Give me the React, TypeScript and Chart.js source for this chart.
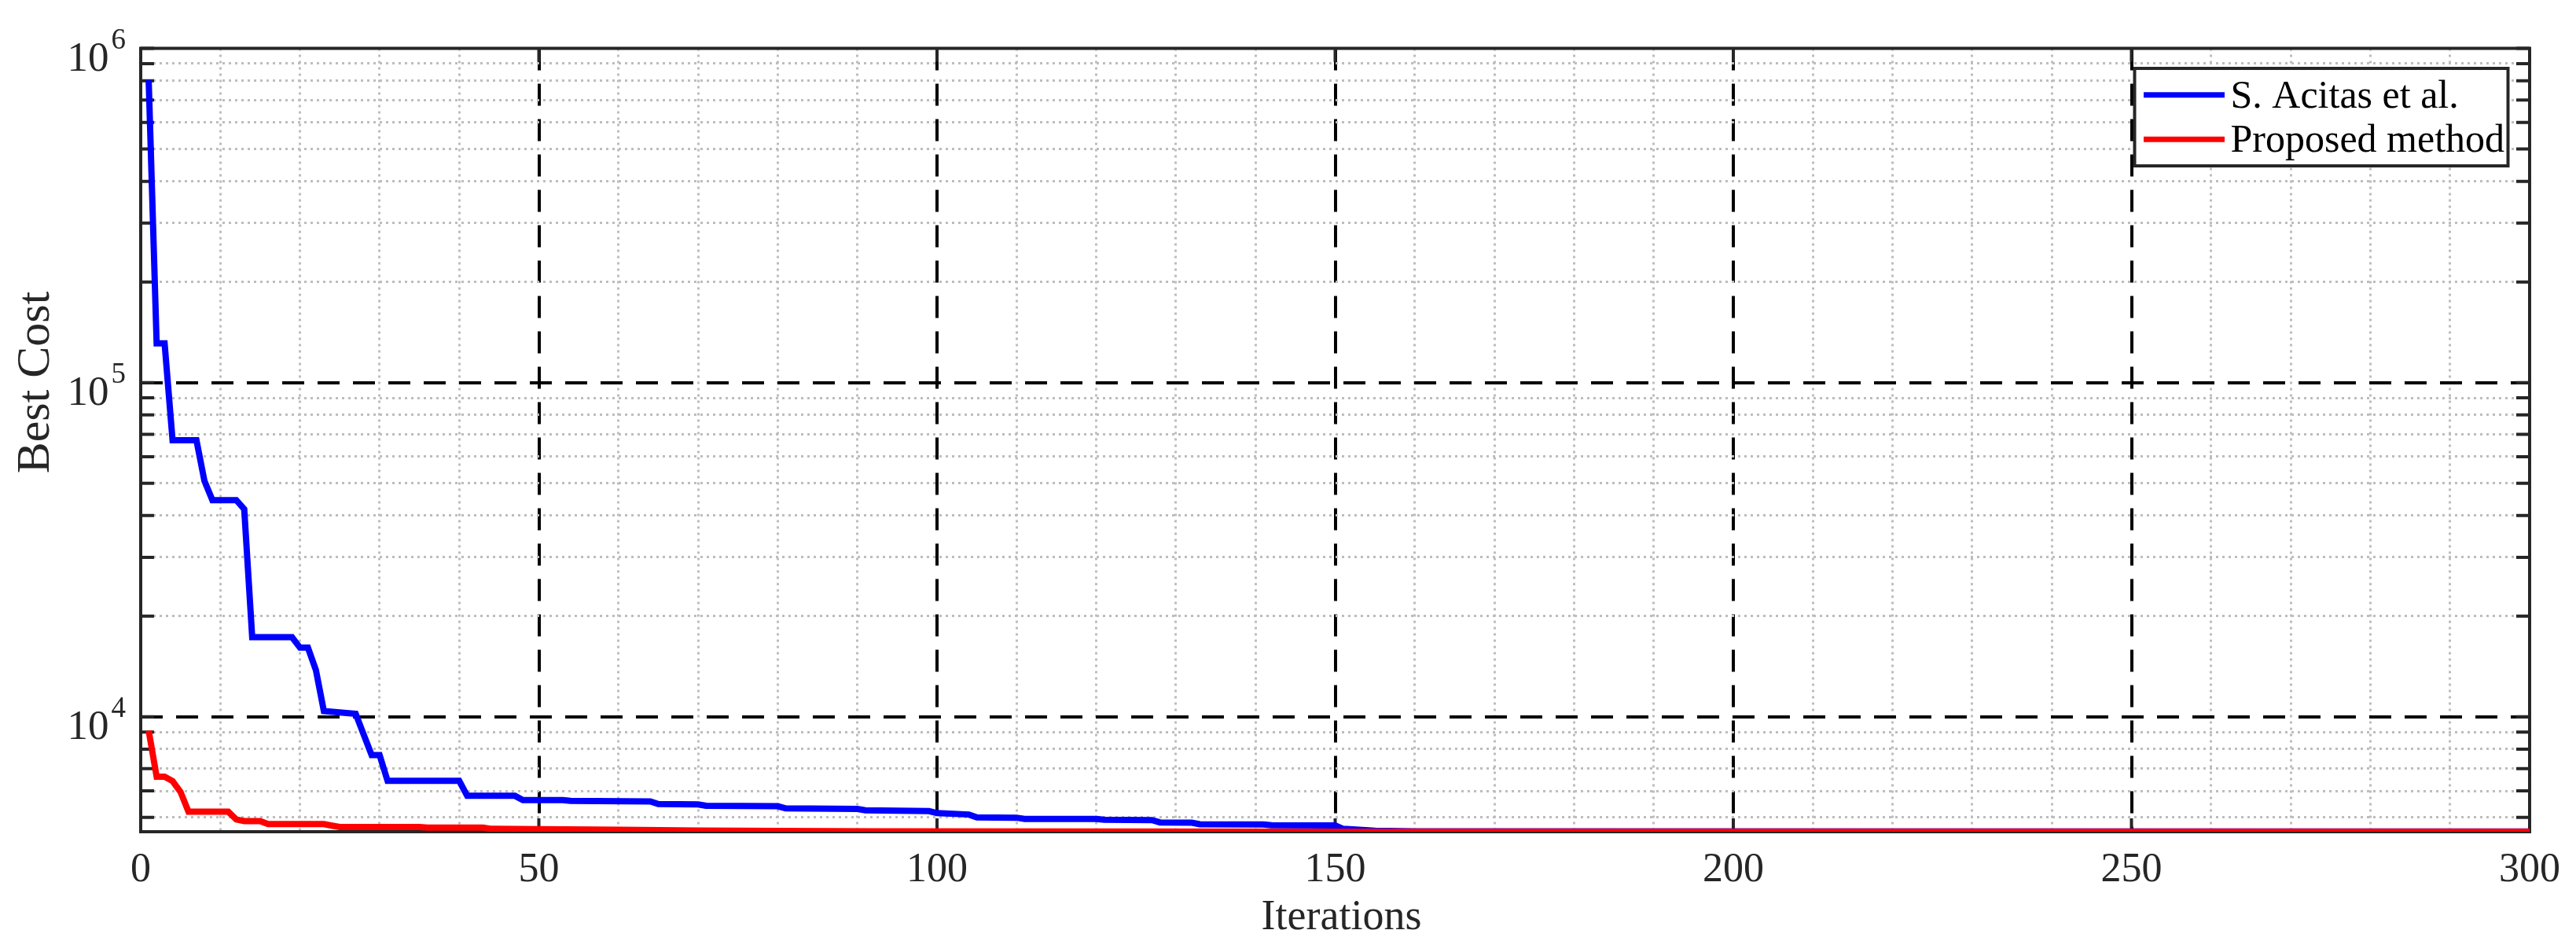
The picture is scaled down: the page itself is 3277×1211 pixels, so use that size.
import React, { useEffect, useRef } from 'react';
import { Chart, registerables } from 'chart.js';

Chart.register(...registerables);

// ---------- data ----------
const blueLabel = 'S. Acitas et al.';
const redLabel = 'Proposed method';

const blueIter = [1, 2, 3, 4, 7, 8, 9, 12, 13, 14, 19, 20, 21, 22, 23, 27, 28, 29, 30, 31, 40, 41, 47, 48, 53, 54, 64, 65, 70, 71, 80, 81, 90, 91, 99, 100, 104, 105, 110, 111, 120, 121, 127, 128, 132, 133, 141, 142, 150, 151, 155, 160, 300];
const blueCost = [805000, 131000, 131000, 67200, 67200, 50800, 44500, 44500, 41800, 17300, 17300, 16100, 16100, 13800, 10400, 10200, 8850, 7680, 7680, 6430, 6430, 5800, 5800, 5630, 5630, 5600, 5580, 5480, 5470, 5420, 5400, 5320, 5300, 5250, 5220, 5150, 5100, 5000, 4990, 4950, 4945, 4920, 4910, 4830, 4820, 4770, 4765, 4740, 4730, 4620, 4560, 4545, 4535];

const redIter = [1, 2, 3, 4, 5, 6, 11, 12, 13, 15, 16, 23, 24, 25, 35, 36, 43, 44, 50, 60, 70, 80, 92, 120, 150, 300];
const redCost = [9090, 6620, 6620, 6420, 5960, 5200, 5200, 4930, 4875, 4875, 4775, 4775, 4725, 4680, 4680, 4660, 4660, 4620, 4610, 4590, 4570, 4555, 4540, 4535, 4530, 4530];

const xMin = 0;
const xMax = 300;
const xTickValues = [0, 10, 20, 30, 40, 50, 60, 70, 80, 90, 100, 110, 120, 130, 140, 150, 160, 170, 180, 190, 200, 210, 220, 230, 240, 250, 260, 270, 280, 290, 300];
const xLabelValues = [0, 50, 100, 150, 200, 250, 300];

const yMin = 4530;
const yMax = 1000000;
const yTickValues = [5000, 6000, 7000, 8000, 9000, 10000, 20000, 30000, 40000, 50000, 60000, 70000, 80000, 90000, 100000, 200000, 300000, 400000, 500000, 600000, 700000, 800000, 900000, 1000000];
const yLabelValues = [10000, 100000, 1000000];

const xTitle = 'Iterations';
const yTitle = 'Best Cost';

// ---------- styles ----------
const W = 3277;
const H = 1211;
const FONT = '"Liberation Serif", "Times New Roman", serif';
const AXIS = '#262626';
const MINOR_GRID = '#bdbdbd';
const MAJOR_GRID = '#000000';
const TICK_LEN = 17;

const isMajorX = (v: number) => xLabelValues.includes(v);
const isMajorY = (v: number) => yLabelValues.some((m) => Math.abs(m - v) < 1e-6 * m);

const decorPlugin = {
  id: 'decor',
  beforeDatasetsDraw(chart: any) {
    const { ctx, chartArea: a, scales } = chart;
    const xs = scales.x;
    const ys = scales.y;
    ctx.save();
    ctx.strokeStyle = AXIS;
    ctx.lineWidth = 4;
    ctx.lineCap = 'butt';
    ctx.beginPath();
    for (const v of yTickValues) {
      const py = ys.getPixelForValue(v);
      if (py < a.top - 1 || py > a.bottom + 1) continue;
      ctx.moveTo(a.left, py);
      ctx.lineTo(a.left + TICK_LEN, py);
      ctx.moveTo(a.right, py);
      ctx.lineTo(a.right - TICK_LEN, py);
    }
    for (const v of xLabelValues) {
      const px = xs.getPixelForValue(v);
      ctx.moveTo(px, a.bottom);
      ctx.lineTo(px, a.bottom - TICK_LEN);
      ctx.moveTo(px, a.top);
      ctx.lineTo(px, a.top + TICK_LEN);
    }
    ctx.stroke();
    ctx.lineJoin = 'miter';
    ctx.strokeRect(a.left, a.top, a.right - a.left, a.bottom - a.top);
    ctx.restore();
  },
  afterDraw(chart: any) {
    const { ctx, chartArea: a, scales } = chart;
    const ys = scales.y;
    ctx.save();
    // y tick labels 10^n
    ctx.fillStyle = AXIS;
    ctx.textAlign = 'right';
    ctx.textBaseline = 'alphabetic';
    for (const v of yLabelValues) {
      const py = ys.getPixelForValue(v);
      const exp = String(Math.round(Math.log10(v)));
      const supRight = a.left - 19;
      ctx.font = `37px ${FONT}`;
      ctx.fillText(exp, supRight, py);
      const supW = ctx.measureText(exp).width;
      ctx.font = `53px ${FONT}`;
      ctx.fillText('10', supRight - supW - 3, py + 28);
    }
    // axis titles
    ctx.font = `54px ${FONT}`;
    ctx.textAlign = 'center';
    ctx.fillText(xTitle, (a.left + a.right) / 2 + 8, a.bottom + 124);
    ctx.save();
    ctx.translate(62, a.top + 0.4265 * (a.bottom - a.top));
    ctx.rotate(-Math.PI / 2);
    ctx.font = `60px ${FONT}`;
    ctx.fillText(yTitle, 0, 0);
    ctx.restore();

    // legend
    const lw = 475;
    const lh = 124;
    const lx = a.right - 27.5 - lw;
    const ly = a.top + 25.5;
    ctx.fillStyle = '#ffffff';
    ctx.fillRect(lx, ly, lw, lh);
    ctx.strokeStyle = AXIS;
    ctx.lineWidth = 4;
    ctx.strokeRect(lx, ly, lw, lh);
    const ds = chart.data.datasets;
    const rows = [33.7, 90.3];
    ds.forEach((d: any, i: number) => {
      const cy = ly + rows[i];
      ctx.strokeStyle = d.borderColor;
      ctx.lineWidth = 7;
      ctx.beginPath();
      ctx.moveTo(lx + 11.5, cy);
      ctx.lineTo(lx + 114.5, cy);
      ctx.stroke();
      ctx.fillStyle = '#000000';
      ctx.textAlign = 'left';
      ctx.textBaseline = 'alphabetic';
      ctx.font = `50px ${FONT}`;
      ctx.fillText(d.label, lx + 122, cy + 16);
    });
    ctx.restore();
  },
};

export default function App() {
  const ref = useRef<HTMLCanvasElement | null>(null);
  useEffect(() => {
    if (!ref.current) return;
    const chart = new Chart(ref.current, {
      type: 'line',
      data: {
        datasets: [
          {
            label: blueLabel,
            data: blueIter.map((x, i) => ({ x, y: blueCost[i] })),
            borderColor: '#0000ff',
            backgroundColor: '#0000ff',
            borderWidth: 8,
            pointRadius: 0,
            tension: 0,
            fill: false,
            order: 2,
          },
          {
            label: redLabel,
            data: redIter.map((x, i) => ({ x, y: redCost[i] })),
            borderColor: '#ff0000',
            backgroundColor: '#ff0000',
            borderWidth: 8,
            pointRadius: 0,
            tension: 0,
            fill: false,
            order: 1,
          },
        ],
      },
      options: {
        animation: false,
        responsive: false,
        devicePixelRatio: 1,
        layout: { padding: { left: 0, top: 61.5, right: 59, bottom: 0 } },
        plugins: { legend: { display: false }, tooltip: { enabled: false } },
        scales: {
          x: {
            type: 'linear',
            min: xMin,
            max: xMax,
            bounds: 'data',
            afterBuildTicks: (s: any) => {
              s.ticks = xTickValues.map((v) => ({ value: v }));
            },
            afterFit: (s: any) => {
              s.height = H - 1058;
            },
            ticks: {
              autoSkip: false,
              maxRotation: 0,
              minRotation: 0,
              padding: 18,
              color: AXIS,
              font: { family: FONT, size: 52 },
              callback: (v: any) => (isMajorX(Number(v)) ? String(v) : ''),
            },
            grid: {
              drawTicks: false,
              tickLength: 0,
              color: (c: any) => {
                const v = c.tick ? c.tick.value : NaN;
                if (v === xMin || v === xMax) return 'rgba(0,0,0,0)';
                return isMajorX(v) ? MAJOR_GRID : MINOR_GRID;
              },
              lineWidth: (c: any) => (c.tick && isMajorX(c.tick.value) ? 4 : 3),
            },
            border: {
              display: false,
              dash: (c: any) => (c.tick && isMajorX(c.tick.value) ? [28, 17] : [3, 5]),
            },
          },
          y: {
            type: 'logarithmic',
            min: yMin,
            max: yMax,
            bounds: 'data',
            afterBuildTicks: (s: any) => {
              s.ticks = yTickValues.map((v) => ({ value: v }));
            },
            afterFit: (s: any) => {
              s.width = 179;
            },
            ticks: { display: false },
            grid: {
              drawTicks: false,
              tickLength: 0,
              color: (c: any) => {
                const v = c.tick ? c.tick.value : NaN;
                if (v === yMax) return 'rgba(0,0,0,0)';
                return isMajorY(v) ? MAJOR_GRID : MINOR_GRID;
              },
              lineWidth: (c: any) => (c.tick && isMajorY(c.tick.value) ? 4 : 3),
            },
            border: {
              display: false,
              dash: (c: any) => (c.tick && isMajorY(c.tick.value) ? [28, 17] : [3, 5]),
            },
          },
        },
      },
      plugins: [decorPlugin],
    } as any);
    return () => chart.destroy();
  }, []);

  return (
    <div style={{ position: 'absolute', left: 0, top: 0, width: W, height: H, background: '#ffffff' }}>
      <canvas ref={ref} width={W} height={H} style={{ display: 'block', width: W, height: H }} />
    </div>
  );
}
